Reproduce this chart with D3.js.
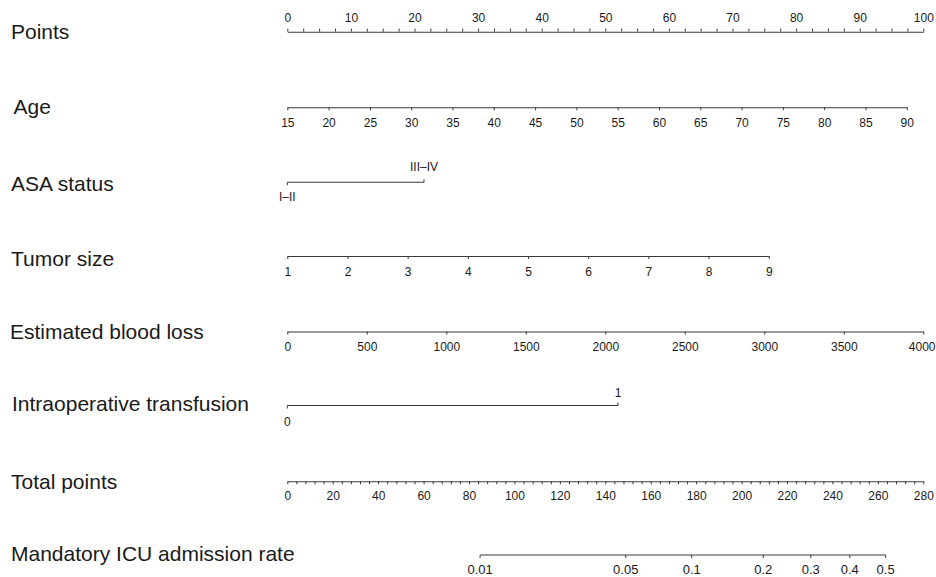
<!DOCTYPE html>
<html><head><meta charset="utf-8">
<script src="https://cdn.jsdelivr.net/npm/d3@7"></script>
<style>
body{margin:0;background:#fff}
svg text{font-family:"Liberation Sans",Arial,Helvetica,sans-serif}
</style>
</head><body>
<svg id="chart" width="936" height="577"></svg>
<script>
// ---------- data ----------
const rowLabels = ["Points","Age","ASA status","Tumor size","Estimated blood loss","Intraoperative transfusion","Total points","Mandatory ICU admission rate"];
const pointsTicks = [0,10,20,30,40,50,60,70,80,90,100];
const ageTicks = [15,20,25,30,35,40,45,50,55,60,65,70,75,80,85,90];
const ageRange = [15,90];
const agePoints = [0,97.4];
const asaLevels = ["I–II","III–IV"];
const asaPoints = [0,21.5];
const tumorTicks = [1,2,3,4,5,6,7,8,9];
const tumorRange = [1,9];
const tumorPoints = [0,75.7];
const eblTicks = [0,500,1000,1500,2000,2500,3000,3500,4000];
const eblRange = [0,4000];
const eblPoints = [0,100];
const transfusionLevels = ["0","1"];
const transfusionPoints = [0,52.0];
const totalTicks = [0,20,40,60,80,100,120,140,160,180,200,220,240,260,280];
const icuTicks = [0.01,0.05,0.1,0.2,0.3,0.4,0.5];
const icuIntercept = -6.78;   // logit(p) = intercept + slope * total points
const icuSlope = 0.02574;

// ---------- layout ----------
const svg = d3.select("#chart");
const X0 = 287.3, X1 = 923.3;
const lineY = [31.7,107.3,182.3,256,331.5,405.5,481.3,555];
const labelBase = [39,113.5,191,266,339,411,489,561];
const labelX = [11,13.5,11,11,10,12,11,11];
const LINE = "#3a3a3a", TXT = "#1a1a1a";
const tickFont = 12;

const pts = d3.scaleLinear().domain([0,100]).range([X0,X1]);
const totalX = d3.scaleLinear().domain([0,280]).range([X0,X1]);

// row labels
svg.append("g").selectAll("text").data(rowLabels).join("text")
  .attr("x", (d,i)=>labelX[i]).attr("y", (d,i)=>labelBase[i])
  .attr("font-size", 21).attr("fill", TXT).text(d=>d);

function styleAxis(g, baseOffset){
  g.select(".domain").attr("stroke", LINE).attr("stroke-width", 1.1);
  g.selectAll(".tick line").attr("stroke", LINE).attr("stroke-width", 1);
  g.selectAll(".tick text").attr("fill", TXT).attr("font-size", tickFont)
    .attr("dy", null).attr("y", baseOffset);
  g.attr("font-family", null);
}

// Points axis (ticks upward, labels above)
const pointsMinor = d3.range(0, 100.001, 2.5);
const gp = svg.append("g").attr("transform", `translate(0,${lineY[0]})`)
  .call(d3.axisTop(pts).tickValues(pointsMinor).tickSize(3).tickSizeOuter(0)
    .tickFormat(d => pointsTicks.includes(d) ? d : ""));
styleAxis(gp, -10);

// Age
const ageX = d3.scaleLinear().domain(ageRange).range(agePoints.map(pts));
const ga = svg.append("g").attr("transform", `translate(0,${lineY[1]})`)
  .call(d3.axisBottom(ageX).tickValues(ageTicks).tickSize(3).tickSizeOuter(0).tickFormat(d3.format("d")));
styleAxis(ga, 19.4);

// categorical rows (ASA, transfusion)
function catRow(levels, pointsArr, y, upOff, downOff){
  const sx = d3.scalePoint().domain(levels).range(pointsArr.map(pts));
  const g = svg.append("g").attr("transform", `translate(0,${y})`);
  g.append("line").attr("x1", sx(levels[0])).attr("x2", sx(levels[levels.length-1]))
    .attr("y1",0).attr("y2",0).attr("stroke", LINE).attr("stroke-width",1.1);
  g.selectAll("line.t").data(levels).join("line").attr("class","t")
    .attr("x1", d=>sx(d)).attr("x2", d=>sx(d))
    .attr("y1",0).attr("y2",(d,i)=> i%2===0 ? 3 : -3)
    .attr("stroke", LINE).attr("stroke-width",1);
  g.selectAll("text").data(levels).join("text")
    .attr("x", d=>sx(d)).attr("y",(d,i)=> i%2===0 ? downOff : upOff)
    .attr("text-anchor","middle").attr("font-size", tickFont).attr("fill", TXT).text(d=>d);
}
catRow(asaLevels, asaPoints, lineY[2], -11.3, 18.6);

// Tumor size
const tumorX = d3.scaleLinear().domain(tumorRange).range(tumorPoints.map(pts));
const gt = svg.append("g").attr("transform", `translate(0,${lineY[3]})`)
  .call(d3.axisBottom(tumorX).tickValues(tumorTicks).tickSize(3).tickSizeOuter(0).tickFormat(d3.format("d")));
styleAxis(gt, 20.2);

// Estimated blood loss
const eblX = d3.scaleLinear().domain(eblRange).range(eblPoints.map(pts));
const ge = svg.append("g").attr("transform", `translate(0,${lineY[4]})`)
  .call(d3.axisBottom(eblX).tickValues(eblTicks).tickSize(3).tickSizeOuter(0).tickFormat(d3.format("d")));
styleAxis(ge, 19.8);
// last label sits against the right edge of the picture
ge.selectAll(".tick text").filter(d => d === eblRange[1])
  .attr("text-anchor","end").attr("x", 935 - eblX(eblRange[1]));

// Intraoperative transfusion
catRow(transfusionLevels, transfusionPoints, lineY[5], -8.3, 20.3);

// Total points
const totalMinor = d3.range(0, 280.001, 4);
const gtp = svg.append("g").attr("transform", `translate(0,${lineY[6]})`)
  .call(d3.axisBottom(totalX).tickValues(totalMinor).tickSize(3).tickSizeOuter(0)
    .tickFormat(d => totalTicks.includes(d) ? d : ""));
styleAxis(gtp, 18.5);

// Mandatory ICU admission rate
const logit = p => Math.log(p/(1-p));
const icuX = p => totalX((logit(p) - icuIntercept) / icuSlope);
const gi = svg.append("g").attr("transform", `translate(0,${lineY[7]})`);
gi.append("line").attr("x1", icuX(icuTicks[0])).attr("x2", icuX(icuTicks[icuTicks.length-1]))
  .attr("y1",0).attr("y2",0).attr("stroke", LINE).attr("stroke-width",1.1);
gi.selectAll("line.t").data(icuTicks).join("line").attr("class","t")
  .attr("x1", d=>icuX(d)).attr("x2", d=>icuX(d)).attr("y1",0).attr("y2",3)
  .attr("stroke", LINE).attr("stroke-width",1);
gi.selectAll("text").data(icuTicks).join("text")
  .attr("x", d=>icuX(d)).attr("y", 19).attr("text-anchor","middle")
  .attr("font-size", 13).attr("fill", TXT).text(d=>String(d));
</script>
</body></html>
